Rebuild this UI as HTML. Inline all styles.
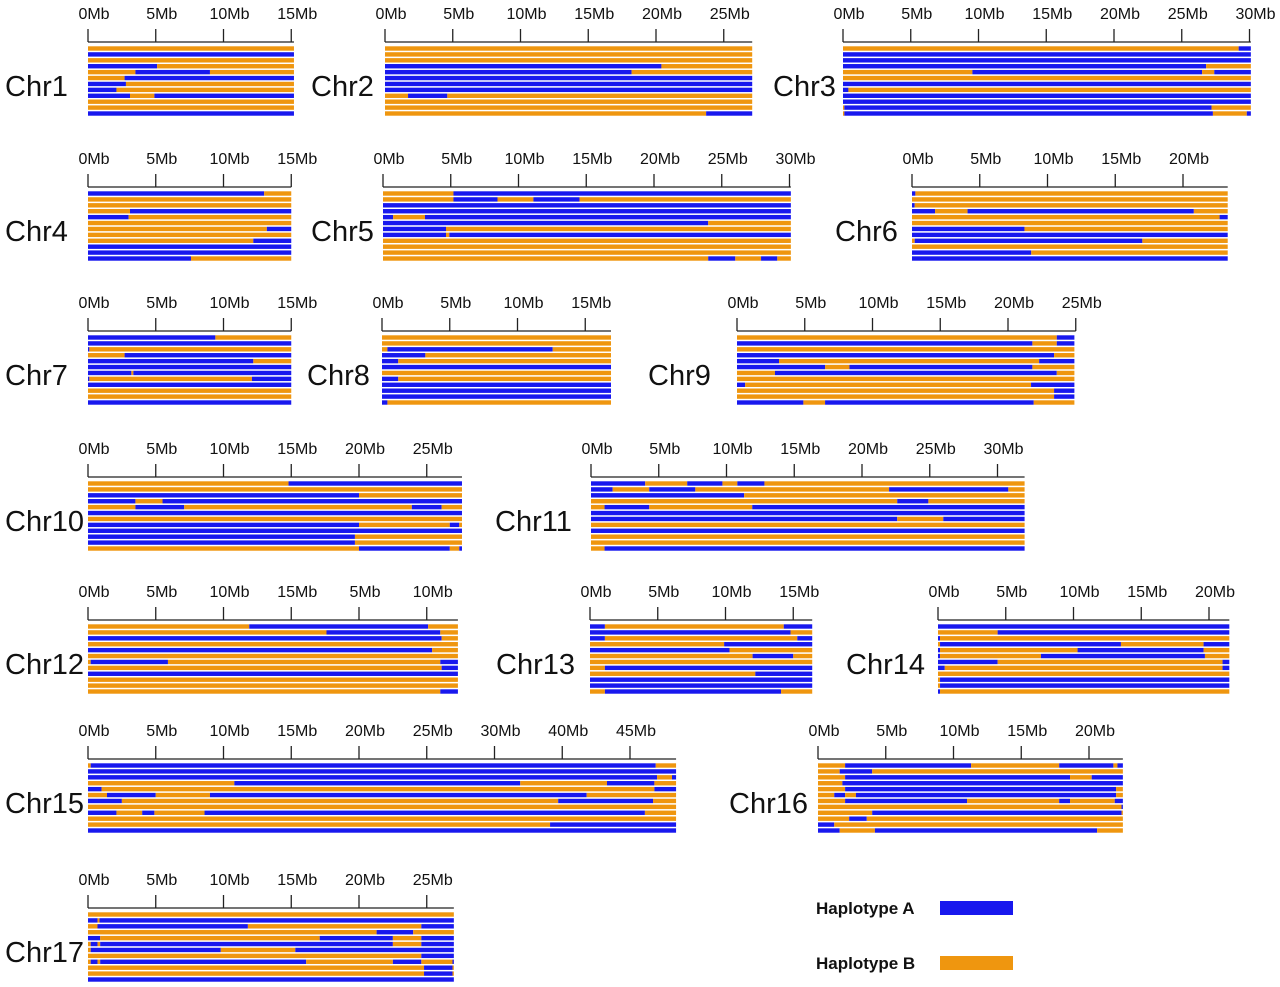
<!DOCTYPE html>
<html><head><meta charset="utf-8"><title>Haplotype map</title>
<style>
html,body{margin:0;padding:0;background:#fff;}
svg{display:block;}
</style></head>
<body>
<svg id="chart" width="1280" height="987" viewBox="0 0 1280 987" xmlns="http://www.w3.org/2000/svg">
  <g id="panels"></g>
  <g>
    <text x="816" y="914" font-family="Liberation Sans, sans-serif" font-size="17" font-weight="bold" fill="#111">Haplotype A</text>
    <rect x="940" y="901" width="73" height="14" fill="#1818ee"/>
    <text x="816" y="969" font-family="Liberation Sans, sans-serif" font-size="17" font-weight="bold" fill="#111">Haplotype B</text>
    <rect x="940" y="956" width="73" height="14" fill="#ef960f"/>
  </g>
</svg>
<script>
// ---- data ----
const chromNames = ["Chr1","Chr2","Chr3","Chr4","Chr5","Chr6","Chr7","Chr8","Chr9","Chr10","Chr11","Chr12","Chr13","Chr14","Chr15","Chr16","Chr17"];
const chromLengths = [15.2,27.1,30.1,15.0,30.1,23.3,15.0,16.9,24.9,27.6,32.0,27.3,16.4,21.5,43.4,22.5,27.0];
const tickLabels = [
  ["0Mb","5Mb","10Mb","15Mb"],
  ["0Mb","5Mb","10Mb","15Mb","20Mb","25Mb"],
  ["0Mb","5Mb","10Mb","15Mb","20Mb","25Mb","30Mb"],
  ["0Mb","5Mb","10Mb","15Mb"],
  ["0Mb","5Mb","10Mb","15Mb","20Mb","25Mb","30Mb"],
  ["0Mb","5Mb","10Mb","15Mb","20Mb"],
  ["0Mb","5Mb","10Mb","15Mb"],
  ["0Mb","5Mb","10Mb","15Mb"],
  ["0Mb","5Mb","10Mb","15Mb","20Mb","25Mb"],
  ["0Mb","5Mb","10Mb","15Mb","20Mb","25Mb"],
  ["0Mb","5Mb","10Mb","15Mb","20Mb","25Mb","30Mb"],
  ["0Mb","5Mb","10Mb","15Mb","5Mb","10Mb"],
  ["0Mb","5Mb","10Mb","15Mb"],
  ["0Mb","5Mb","10Mb","15Mb","20Mb"],
  ["0Mb","5Mb","10Mb","15Mb","20Mb","25Mb","30Mb","40Mb","45Mb"],
  ["0Mb","5Mb","10Mb","15Mb","20Mb"],
  ["0Mb","5Mb","10Mb","15Mb","20Mb","25Mb"]
];
// each row: haplotype, breakpoint (Mb), haplotype, ...
const haplotypeRows = [
  ["B","A","B","A 5.1 B","B 3.5 A 9.0 B","B 2.7 A","A 2.8 B","A 2.1 B","A 3.1 B 4.9 A","B","B","A"],
  ["B","B","B","A 20.4 B","A 18.2 B","A","A","A","B 1.7 A 4.6 B","B","B","B 23.7 A"],
  ["B 29.2 A","A","A","A 26.8 B","B 9.55 A 26.5 B 27.4 A","B","A","A 0.4 B","A","A","B 0.1 A 27.2 B","B 0.1 A 27.3 B 29.8 A"],
  ["A 13.0 B","B","B","B 3.1 A","A 3.0 B","B","B 13.2 A","B","B 12.2 A","A","A","A 7.6 B"],
  ["B 5.2 A","B 5.2 A 8.45 B 11.1 A 14.5 B","A","A","A 0.75 B 3.1 A","A 24.0 B","A 4.65 B","A 4.65 B 4.9 A","B","B","B","B 24.0 A 26.0 B 27.9 A 29.1 B"],
  ["A 0.25 B","B","A 0.2 B","A 1.7 B 4.1 A 20.8 B","B 22.7 A","B","A 8.3 B","A","B 0.2 A 17.0 B","B","A 8.8 B","A"],
  ["A 9.4 B","A","A 0.1 B","B 2.7 A","A 12.2 B","A","A 3.2 B 3.35 A","A 0.1 B 12.1 A","A","B","B","A"],
  ["B","B","B 0.4 A 12.6 B","A 3.2 B","A 1.2 B","A","B","A 1.2 B","A","A","A","A 0.4 B"],
  ["B 23.6 A","A 21.8 B 23.6 A","B","A 23.4 B","A 3.1 B 22.3 A","A 6.5 B 8.3 A 21.8 B","B 2.8 A 23.6 B","B","A 0.6 B 21.7 A","B 23.4 A","B 23.4 A","A 4.9 B 6.5 A 21.9 B"],
  ["B 14.8 A","B","A 20.0 B","A 3.5 B 5.5 A","B 3.5 A 7.1 B 23.9 A 26.1 B","A","B","A 20.0 B 26.7 A 27.4 B","A","A 19.7 B","A 19.7 B","B 20.0 A 26.7 B 27.4 A"],
  ["A 4.0 B 7.1 A 9.7 B 10.8 A 12.8 B","A 1.6 B 4.3 A 7.7 B 22.0 A 30.8 B","A 11.3 B","B 22.6 A 24.9 B","B 1.0 A 4.3 B 11.9 A","A","A 22.6 B 26.0 A","B","A","B","B","B 1.0 A"],
  ["B 11.9 A 25.1 B","B 17.6 A 26.0 B","A 26.1 B","B","A 25.4 B","B","B 0.2 A 5.9 B 26.0 A","B 26.1 A","A","B","B","B 26.0 A"],
  ["A 1.1 B 14.3 A","A 14.8 B","A 1.1 B 15.3 A","B 9.9 A","A 10.3 B","B 12.0 A 15.0 B","B","B 1.1 A","B 12.2 A","A","A","B 1.1 A 14.1 B"],
  ["A","B 4.4 A","A 0.15 B","B 0.15 A 13.5 B 19.6 A","A 0.15 B 10.3 A 19.6 B","A 0.15 B 7.6 A 19.7 B","A 4.4 B 21.0 A","A 0.5 B 21.0 A","B","B 0.15 A","B 0.15 A","A 0.15 B"],
  ["B 0.2 A 41.9 B","A","A 42.0 B 43.1 A","B 10.8 A 31.9 B 38.3 A 41.8 B","A 1.0 B 41.8 A","B 1.4 A 5.0 B 9.0 A 36.8 B","A 2.5 B 34.7 A 41.7 B","B","A 2.1 B 4.0 A 4.9 B 8.6 A 41.1 B","B","B 34.1 A","A"],
  ["B 2.0 A 11.3 B 17.8 A 21.8 B 22.1 A","B 1.6 A 4.0 B","B 2.0 A 18.6 B 20.2 A","B 1.8 A","B 2.0 A 22.0 B","B 1.2 A 2.0 B 2.8 A 22.0 B","B 2.0 A 11.0 B 17.8 A 18.6 B 21.9 A","B 22.4 A","B 4.0 A 22.4 B","B 2.3 A 3.6 B","A 1.2 B","A 1.6 B 4.2 A 20.6 B"],
  ["B","A 0.7 B 0.85 A","B 0.7 A 11.8 B 24.6 A","B 21.3 A 24.0 B","A 0.9 B 17.1 A 22.5 B 24.6 A","B 0.2 A 0.7 B 0.9 A 22.5 B 24.6 A","B 0.2 A 9.8 B 15.3 A","B 24.6 A","B 0.2 A 0.7 B 0.9 A 16.1 B 22.5 A 24.6 B 26.9 A","B 24.8 A 26.9 B","B 24.8 A 26.9 B","A"]
];
// ---- layout (not data) ----
const panelOriginX = [88,385,843,88,383,912,88,382,737,88,591,88,590,938,88,818,88];
const panelGroup   = [0,0,0,1,1,1,2,2,2,3,3,4,4,4,5,5,6];
const groupTop     = [0,145,289,435,578,717,866];
const labelX       = [5,311,773,5,311,835,5,307,648,5,495,5,496,846,5,729,5];
const PX_PER_MB = 13.55, ROW_PITCH = 5.91, ROW_H = 4.4, STEP_MB = 5;
const COLORS = {A:"#1818ee", B:"#ef960f"};
const NS = "http://www.w3.org/2000/svg";
const root = document.getElementById("panels");
function xScale(i, mb){ return panelOriginX[i] + mb * PX_PER_MB; }
function mk(tag, attrs, parent){ const e=document.createElementNS(NS,tag); for(const k in attrs) e.setAttribute(k, attrs[k]); parent.appendChild(e); return e; }

chromNames.forEach((name, i) => {
  const top = groupTop[panelGroup[i]];
  const g = mk("g", {}, root);
  
  
  const lbl = mk("text", {x:labelX[i], y:top+96, "font-family":"Liberation Sans, sans-serif", "font-size":"29", fill:"#111"}, g);
  lbl.textContent = name;
  
  
  const L = chromLengths[i];
  const ticks = tickLabels[i];
  const axisEnd = Math.max(xScale(i, L), xScale(i, (ticks.length-1)*STEP_MB));
  const ax = mk("line", {x1:xScale(i,0), x2:axisEnd, y1:top+42, y2:top+42, stroke:"#222", "stroke-width":"1.3"}, g);
  
  
  ticks.forEach((t, k) => {
    const tx = xScale(i, k*STEP_MB);
    const tl = mk("line", {x1:tx, x2:tx, y1:top+29, y2:top+42, stroke:"#222", "stroke-width":"1.3"}, g);
    
    
    const tt = mk("text", {x:tx+6, y:top+19, "text-anchor":"middle", "font-family":"Liberation Sans, sans-serif", "font-size":"16", fill:"#111"}, g);
    tt.textContent = t;
    
    
  });
  haplotypeRows[i].forEach((row, r) => {
    const tok = row.split(" ");
    const y = top + 46.3 + r*ROW_PITCH;
    let start = 0;
    for (let k = 0; k < tok.length; k += 2) {
      const hap = tok[k];
      const end = (k+1 < tok.length) ? parseFloat(tok[k+1]) : L;
      const seg = mk("rect", {x:xScale(i,start), y:y, width:Math.max(0.6, xScale(i,end)-xScale(i,start)), height:ROW_H, fill:COLORS[hap]}, g);
      
      
      start = end;
    }
  });
});
</script>
</body></html>
